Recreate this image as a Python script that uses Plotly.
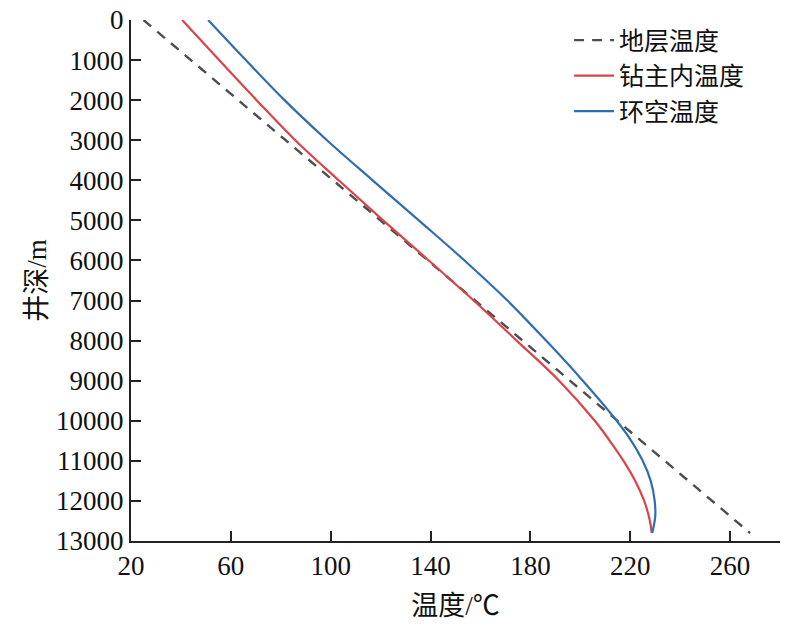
import plotly.graph_objects as go

# depth (m) vs temperature (degC)
depth_formation = [0, 12800]
temp_formation = [25.0, 268.0]

depth_drill = [0, 1000, 2000, 3000, 4000, 5000, 6000, 7000, 8000, 9000,
               10000, 10500, 11000, 11500, 12000, 12500, 12800]
temp_drill = [40.5, 55.3, 70.3, 85.8, 103.2, 121.0, 139.3, 157.3, 174.5, 191.5,
              205.8, 211.8, 217.3, 222.0, 225.6, 227.9, 228.6]

depth_annulus = [0, 1000, 2000, 3000, 4000, 5000, 6000, 7000, 8000, 9000,
                 10000, 10500, 11000, 11500, 12000, 12400, 12800]
temp_annulus = [50.9, 66.0, 81.5, 98.5, 116.8, 135.3, 153.6, 170.8, 186.3, 201.0,
                214.6, 220.4, 225.0, 228.2, 229.8, 230.0, 228.8]

names = ["地层温度", "钻主内温度", "环空温度"]
x_ticks = [20, 60, 100, 140, 180, 220, 260]
y_ticks = [0, 1000, 2000, 3000, 4000, 5000, 6000, 7000, 8000, 9000, 10000, 11000, 12000, 13000]

SERIF = "Liberation Serif"
TITLE_FONT = "Liberation Serif, Noto Sans CJK SC"

fig = go.Figure()
fig.add_trace(go.Scatter(x=temp_formation, y=depth_formation, mode="lines", name=names[0],
                         line=dict(color="#4d4d4d", width=2.4, dash="10px,8px")))
fig.add_trace(go.Scatter(x=temp_drill, y=depth_drill, mode="lines", name=names[1],
                         line=dict(color="#d9444b", width=2.2, shape="spline", smoothing=1)))
fig.add_trace(go.Scatter(x=temp_annulus, y=depth_annulus, mode="lines", name=names[2],
                         line=dict(color="#2f6db3", width=2.2, shape="spline", smoothing=1)))

axis_style = dict(showline=True, linecolor="#222222", linewidth=2,
                  ticks="inside", ticklen=10, tickwidth=2, tickcolor="#222222",
                  showgrid=False, zeroline=False, layer="above traces",
                  tickfont=dict(family=SERIF, size=27, color="#111111"))

fig.update_xaxes(
    range=[20, 280], tickmode="array", tickvals=x_ticks, ticktext=[str(v) for v in x_ticks],
    title=dict(text="温度/℃", font=dict(family=TITLE_FONT, size=27, color="#111111"), standoff=16),
    **axis_style,
)
fig.update_yaxes(
    range=[13000, 0], tickmode="array", tickvals=y_ticks, ticktext=[str(v) for v in y_ticks],
    title=dict(text="井深/m", font=dict(family=TITLE_FONT, size=27, color="#111111"), standoff=2),
    **axis_style,
)

fig.update_layout(
    template="none",
    width=789, height=633,
    margin=dict(l=131, r=9, t=20, b=92),
    plot_bgcolor="white", paper_bgcolor="white",
    legend=dict(x=0.675, y=1.005, xanchor="left", yanchor="top", bgcolor="rgba(0,0,0,0)",
                font=dict(family=TITLE_FONT, size=25, color="#111111"), itemwidth=40),
)

fig.write_html("out.html", config={"displayModeBar": False},
               post_script="document.body.style.margin='0';")
